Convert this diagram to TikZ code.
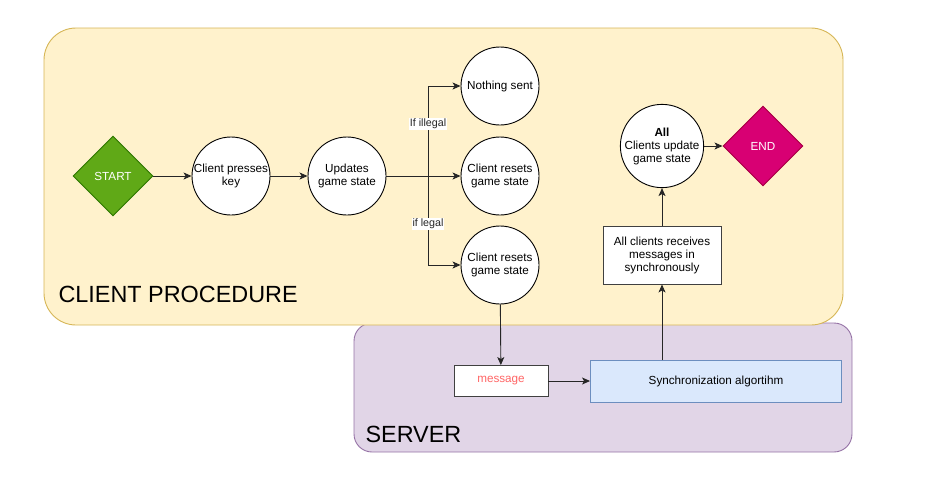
\documentclass[tikz,border=0pt]{standalone}
\usepackage{fontspec}
\setmainfont{Liberation Sans}
\usepackage{xcolor}
\usepackage{tikz}
\usetikzlibrary{shapes.geometric,arrows.meta}
\definecolor{CPFill}{HTML}{FFF2CC}
\definecolor{CPLine}{HTML}{D6B656}
\definecolor{SVFill}{HTML}{E1D5E7}
\definecolor{SVLine}{HTML}{9673A6}
\definecolor{GoGreen}{HTML}{60A917}
\definecolor{GoGreenLine}{HTML}{2D7600}
\definecolor{StopPink}{HTML}{D80073}
\definecolor{StopPinkLine}{HTML}{A50040}
\definecolor{SyncBlue}{HTML}{DAE8FC}
\definecolor{SyncBlueLine}{HTML}{6C8EBF}
\definecolor{MsgRed}{HTML}{FF6666}

\begin{document}
\begin{tikzpicture}[x=1pt,y=-1pt,
  txt/.style={font=\fontsize{11.7}{13}\selectfont,align=center},
  state/.style={txt,circle,draw=black,fill=white,line width=.9pt,minimum size=78pt,inner sep=0pt},
  term/.style={txt,diamond,minimum width=80pt,minimum height=80pt,inner sep=0pt,text=white,line width=.9pt},
  box/.style={txt,rectangle,draw=black!75,fill=white,line width=.9pt,inner sep=0pt},
  arr/.style={-{Stealth[length=8pt,width=7pt,inset=2pt]},line width=.9pt,black!85},
  cond/.style={font=\fontsize{10.7}{12}\selectfont,fill=white,inner sep=1pt}]
\path[use as bounding box] (0,0) rectangle (939,501);
% containers
\draw[fill=SVFill,draw=SVLine,line width=.9pt,rounded corners=18pt] (354,323) rectangle (852,452);
\draw[fill=CPFill,draw=CPLine,line width=.9pt,rounded corners=32pt] (44,28) rectangle (843,325);
\node[anchor=west,font=\fontsize{23.4}{26}\selectfont] (cplabel) at (55,294) {CLIENT PROCEDURE};
\node[anchor=west,font=\fontsize{23.4}{26}\selectfont] (svlabel) at (362,434) {SERVER};
% client side
\node[term,fill=GoGreen,draw=GoGreenLine] (start) at (113,176) {START};
\node[state] (press) at (231,176) {Client presses\\key};
\node[state] (upd) at (347,176) {Updates\\game state};
\coordinate (split) at (428,176);
\node[state] (none) at (500,86) {Nothing sent};
\node[state] (resetA) at (500,176) {Client resets\\game state};
\node[state] (resetB) at (500,265) {Client resets\\game state};
\node[state] (allupd) at (662,146) {\textbf{All}\\Clients update\\game state};
\node[term,fill=StopPink,draw=StopPinkLine] (end) at (763,146) {END};
\node[box,minimum width=118pt,minimum height=58pt] (recv) at (662,255) {All clients receives\\messages in\\synchronously};
% server side
\node[box,minimum width=94pt,minimum height=31pt,text=MsgRed] (msg) at (501,381) {message};
\node[box,fill=SyncBlue,draw=SyncBlueLine,minimum width=251pt,minimum height=42pt] (sync) at (716,381) {Synchronization algortihm};
% connectors
\draw[arr] (start) -- (press);
\draw[arr] (press) -- (upd);
\draw[arr] (upd) -- (resetA);
\draw[arr] (split) |- node[cond,pos=.29] {If illegal} (none);
\draw[arr] (split) |- node[cond,pos=.27] {if legal} (resetB);
\draw[arr] (resetB) -- (msg);
\draw[arr] (msg) -- (sync);
\draw[arr] (sync.north -| recv) -- (recv);
\draw[arr] (recv) -- (allupd);
\draw[arr] (allupd) -- (end);
\end{tikzpicture}
\end{document}
